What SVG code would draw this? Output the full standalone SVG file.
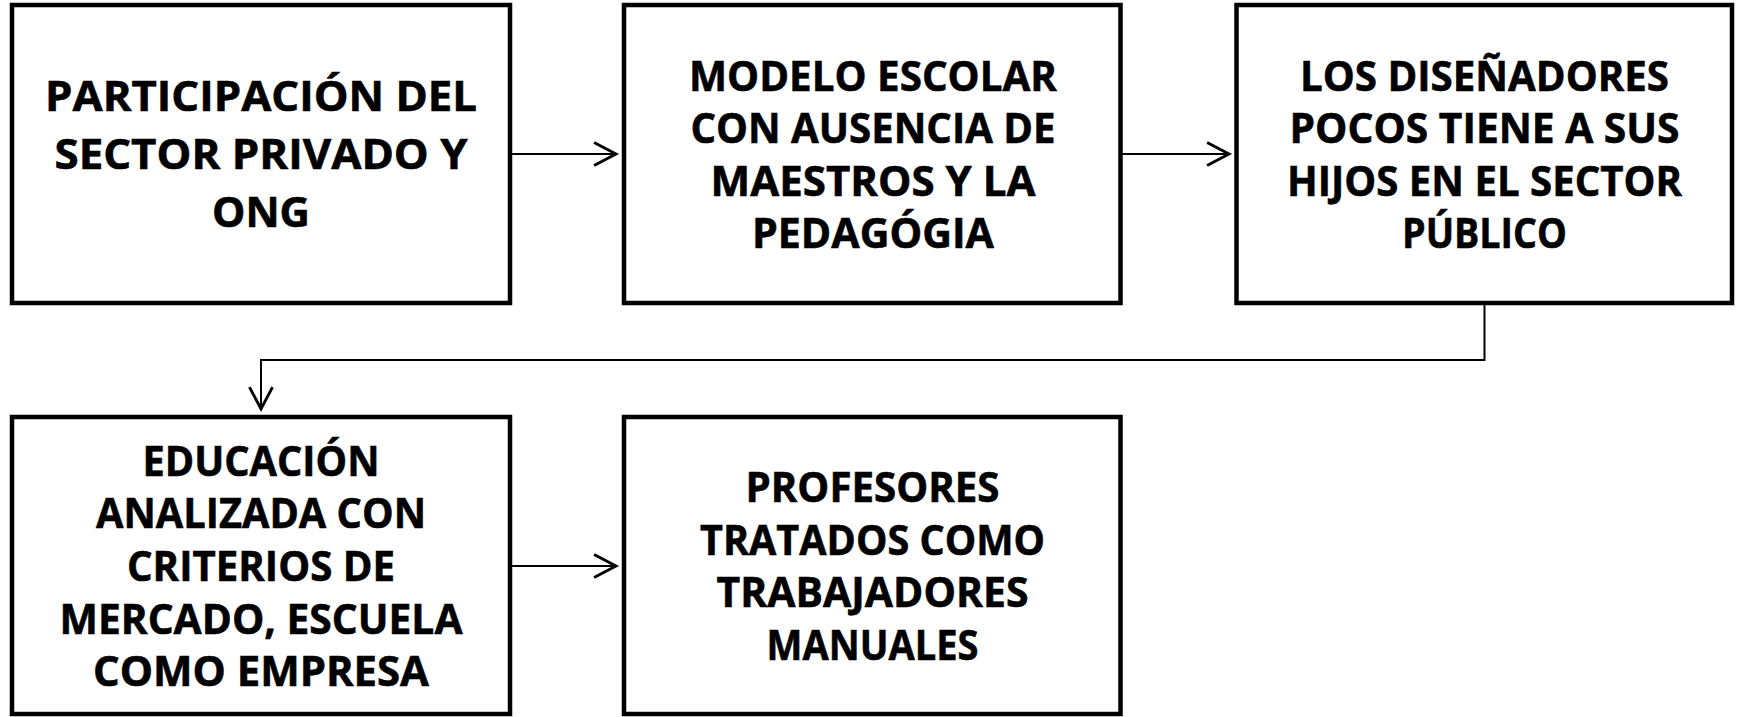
<svg xmlns="http://www.w3.org/2000/svg" width="1737" height="717" viewBox="0 0 1737 717">
<style>
.box{fill:#fff;stroke:#000;stroke-width:4.5}
.lbl{font-family:"Open Sans","Noto Sans","Liberation Sans",sans-serif;font-weight:bold;font-size:42px;fill:#000;stroke:#000;stroke-width:0.6;text-anchor:middle}
.con{fill:none;stroke:#000;stroke-width:2}
</style>
<defs>
<marker id="arr" markerUnits="userSpaceOnUse" markerWidth="30" markerHeight="30" viewBox="-22 -12 26 24" refX="0" refY="0" orient="auto">
<path d="M-19,-10 L0,0 L-19,10" fill="none" stroke="#000" stroke-width="2.5"/>
</marker>
</defs>
<rect width="1737" height="717" fill="#fff"/>
<g id="connectors">
<path class="con" d="M510,154 H616" marker-end="url(#arr)"/>
<path class="con" d="M1120.5,154 H1229" marker-end="url(#arr)"/>
<path class="con" d="M1484.5,303 V360 H261 V409" marker-end="url(#arr)"/>
<path class="con" d="M510,566 H616" marker-end="url(#arr)"/>
</g>
<g id="n1">
<rect class="box" x="12" y="5" width="498" height="298"/>
<text class="lbl"><tspan x="261" y="111" textLength="432" lengthAdjust="spacingAndGlyphs">PARTICIPACIÓN DEL</tspan><tspan x="261" y="169" textLength="413" lengthAdjust="spacingAndGlyphs">SECTOR PRIVADO Y</tspan><tspan x="261" y="227" textLength="98" lengthAdjust="spacingAndGlyphs">ONG</tspan></text>
</g>
<g id="n2">
<rect class="box" x="624" y="5" width="496.5" height="298"/>
<text class="lbl"><tspan x="873" y="90.5" textLength="368" lengthAdjust="spacingAndGlyphs">MODELO ESCOLAR</tspan><tspan x="873" y="143" textLength="365" lengthAdjust="spacingAndGlyphs">CON AUSENCIA DE</tspan><tspan x="873" y="195.5" textLength="325" lengthAdjust="spacingAndGlyphs">MAESTROS Y LA</tspan><tspan x="873" y="248" textLength="242" lengthAdjust="spacingAndGlyphs">PEDAGÓGIA</tspan></text>
</g>
<g id="n3">
<rect class="box" x="1236.5" y="5" width="495.5" height="298"/>
<text class="lbl"><tspan x="1484.5" y="90.5" textLength="369" lengthAdjust="spacingAndGlyphs">LOS DISEÑADORES</tspan><tspan x="1484.5" y="143" textLength="390" lengthAdjust="spacingAndGlyphs">POCOS TIENE A SUS</tspan><tspan x="1484.5" y="195.5" textLength="395" lengthAdjust="spacingAndGlyphs">HIJOS EN EL SECTOR</tspan><tspan x="1484.5" y="248" textLength="165" lengthAdjust="spacingAndGlyphs">PÚBLICO</tspan></text>
</g>
<g id="n4">
<rect class="box" x="12" y="417" width="498" height="297"/>
<text class="lbl"><tspan x="261" y="475.5" textLength="237" lengthAdjust="spacingAndGlyphs">EDUCACIÓN</tspan><tspan x="261" y="528.2" textLength="330" lengthAdjust="spacingAndGlyphs">ANALIZADA CON</tspan><tspan x="261" y="580.9" textLength="268" lengthAdjust="spacingAndGlyphs">CRITERIOS DE</tspan><tspan x="261" y="633.6" textLength="403" lengthAdjust="spacingAndGlyphs">MERCADO, ESCUELA</tspan><tspan x="261" y="686.3" textLength="336" lengthAdjust="spacingAndGlyphs">COMO EMPRESA</tspan></text>
</g>
<g id="n5">
<rect class="box" x="624" y="417" width="496.5" height="297"/>
<text class="lbl"><tspan x="872.5" y="502.3" textLength="254" lengthAdjust="spacingAndGlyphs">PROFESORES</tspan><tspan x="872.5" y="554.8" textLength="345" lengthAdjust="spacingAndGlyphs">TRATADOS COMO</tspan><tspan x="872.5" y="607.3" textLength="312" lengthAdjust="spacingAndGlyphs">TRABAJADORES</tspan><tspan x="872.5" y="659.8" textLength="212" lengthAdjust="spacingAndGlyphs">MANUALES</tspan></text>
</g>
</svg>
